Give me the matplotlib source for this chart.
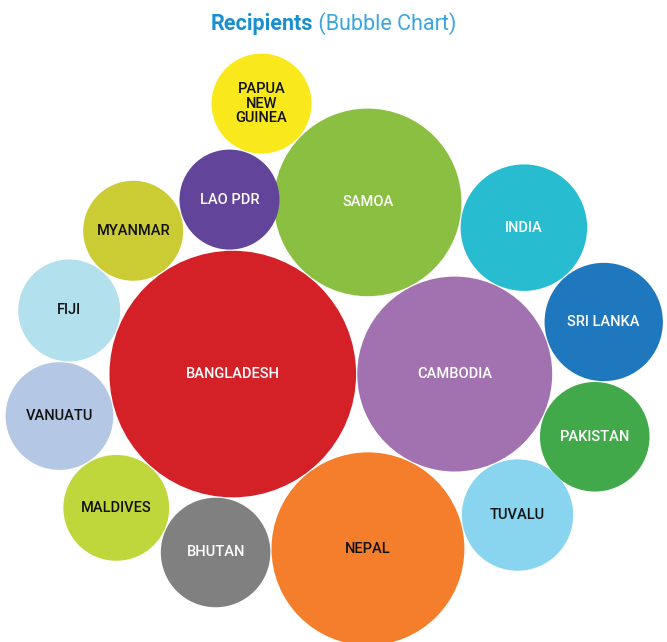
import math
import matplotlib
matplotlib.use("Agg")
import matplotlib.pyplot as plt
from matplotlib.patches import Circle

plt.rcParams['font.family'] = ['Roboto', 'DejaVu Sans']

# data
countries = ["BANGLADESH", "CAMBODIA", "SAMOA", "NEPAL", "INDIA", "SRI LANKA",
             "PAKISTAN", "TUVALU", "BHUTAN", "MALDIVES", "VANUATU", "FIJI",
             "MYANMAR", "LAO PDR", "PAPUA\nNEW\nGUINEA"]
values = [152, 95, 88, 93, 40, 35, 30, 31, 30, 28, 29, 26, 25, 25, 25]
colors = ["#d42027", "#a272b0", "#8bbf41", "#f47e2c", "#27bccf", "#1f78be",
          "#42a94a", "#89d5f0", "#808080", "#c0d73c", "#b4c7e5", "#b3e0ed",
          "#cbcb33", "#62449a", "#f8e81c"]
text_colors = ["white", "white", "white", "#111111", "white", "white",
               "white", "#111111", "white", "#111111", "#111111", "#111111",
               "#111111", "white", "#111111"]

# layout: each bubble after the second sits against two earlier ones (index pairs)
neighbours = [None, None, (0, 1), (1, 0), (2, 1), (4, 1), (5, 1), (1, 3),
              (3, 0), (8, 0), (9, 0), (10, 0), (11, 0), (12, 0), (13, 2)]

SCALE = 10.0   # px per sqrt(value)
PAD = 0.6


def touch(a, b, rc):
    # centre of a circle of radius rc touching a and b, left of a->b (y down)
    ax_, ay_, ra = a
    bx_, by_, rb = b
    dx, dy = bx_ - ax_, by_ - ay_
    d = math.hypot(dx, dy)
    ux, uy = dx / d, dy / d
    ra2, rb2 = ra + rc, rb + rc
    x = (d * d + ra2 * ra2 - rb2 * rb2) / (2 * d)
    h = math.sqrt(max(0, ra2 * ra2 - x * x))
    return ax_ + x * ux + h * uy, ay_ + x * uy - h * ux


radii = [SCALE * math.sqrt(v) + PAD for v in values]
pos = []
for i, r in enumerate(radii):
    if i == 0:
        pos.append((0.0, 0.0, r))
    elif i == 1:
        pos.append((radii[0] + r, 0.0, r))
    else:
        a, b = neighbours[i]
        x, y = touch(pos[a], pos[b], r)
        pos.append((x, y, r))

xmin = min(p[0] - p[2] for p in pos)
ymin = min(p[1] - p[2] for p in pos)

W, H = 667, 642
fig = plt.figure(figsize=(W / 100, H / 100), dpi=100)
ax = fig.add_axes([0, 0, 1, 1])
ax.set_xlim(xmin - 5, xmin - 5 + W)
ax.set_ylim(ymin - 53 + H, ymin - 53)
ax.axis('off')

for i in range(len(values)):
    x, y, r = pos[i]
    ax.add_patch(Circle((x, y), r - PAD, facecolor=colors[i], edgecolor='none'))
    ax.text(x, y, countries[i], ha='center', va='center', fontsize=10.5,
            fontweight='medium', color=text_colors[i], linespacing=1.05)

# title in two parts
t1 = fig.text(0, 1 - 30 / H, "Recipients", fontsize=15.5, fontweight='bold',
              color='#1a8fd0', va='baseline')
t2 = fig.text(0, 1 - 30 / H, " (Bubble Chart)", fontsize=15.5, fontweight='normal',
              color='#3aa6dd', va='baseline')
fig.canvas.draw()
rend = fig.canvas.get_renderer()
w1 = t1.get_window_extent(rend).width
w2 = t2.get_window_extent(rend).width
x0 = (W - w1 - w2) / 2
t1.set_x(x0 / W)
t2.set_x((x0 + w1) / W)

fig.savefig("out.png", dpi=100)
